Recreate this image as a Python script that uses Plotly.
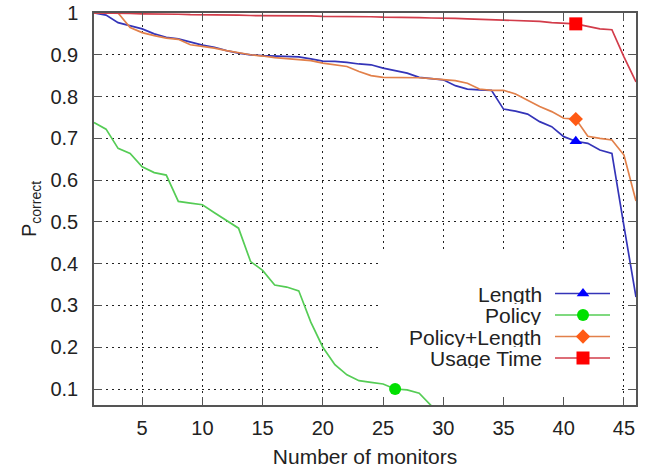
import plotly.graph_objects as go

monitors = list(range(1, 47))

length = [1.0, 0.995, 0.977, 0.970, 0.962, 0.950, 0.942, 0.938, 0.930, 0.923,
          0.918, 0.910, 0.904, 0.900, 0.898, 0.897, 0.896, 0.895, 0.890, 0.885,
          0.884, 0.882, 0.878, 0.876, 0.868, 0.862, 0.856, 0.846, 0.843, 0.840,
          0.826, 0.818, 0.816, 0.815, 0.770, 0.765, 0.758, 0.740, 0.728, 0.704,
          0.693, 0.688, 0.672, 0.664, 0.490, 0.320]

policy_x = list(range(1, 31))
policy = [0.738, 0.722, 0.676, 0.664, 0.632, 0.618, 0.612, 0.549, 0.545, 0.541,
          0.522, 0.503, 0.485, 0.405, 0.384, 0.349, 0.344, 0.335, 0.260, 0.200,
          0.158, 0.134, 0.120, 0.116, 0.112, 0.100, 0.098, 0.090, 0.060, 0.030]

policy_length = [1.0, 1.0, 1.0, 0.965, 0.953, 0.946, 0.940, 0.937, 0.924, 0.920,
                 0.916, 0.910, 0.905, 0.900, 0.897, 0.893, 0.891, 0.889, 0.886, 0.880,
                 0.876, 0.872, 0.860, 0.850, 0.846, 0.846, 0.845, 0.845, 0.843, 0.840,
                 0.838, 0.832, 0.818, 0.815, 0.815, 0.806, 0.792, 0.776, 0.764, 0.748,
                 0.746, 0.705, 0.700, 0.696, 0.660, 0.550]

usage_time = [1.0, 1.0, 0.999, 0.999, 0.998, 0.998, 0.997, 0.997, 0.996, 0.996,
              0.996, 0.995, 0.995, 0.994, 0.994, 0.994, 0.993, 0.993, 0.993, 0.992,
              0.992, 0.992, 0.991, 0.991, 0.990, 0.990, 0.989, 0.989, 0.988, 0.988,
              0.987, 0.986, 0.985, 0.985, 0.984, 0.983, 0.982, 0.980, 0.977, 0.975,
              0.974, 0.968, 0.962, 0.960, 0.895, 0.835]

series_names = ["Length", "Policy", "Policy+Length", "Usage Time"]
x_ticks = [5, 10, 15, 20, 25, 30, 35, 40, 45]
y_ticks = [0.1, 0.2, 0.3, 0.4, 0.5, 0.6, 0.7, 0.8, 0.9, 1.0]

# styling
line_cols = ["#3434b8", "#55cc55", "#e2804a", "#d23c4a"]
mark_cols = ["#0000ff", "#00e000", "#ff5a14", "#ff0000"]
symbols = ["triangle-up", "circle", "diamond", "square"]
msizes = [11, 12, 11, 13]
FONT = "Liberation Sans, Arial, sans-serif"

W, H = 651, 472
PX_L, PX_R, PX_T, PX_B = 94, 636, 13, 405
X_RANGE = [1, 46]
Y_RANGE = [0.0617, 1.0]


def fx(px):
    """pixel column inside the plot -> x value (legend layout only)"""
    return X_RANGE[0] + (px - PX_L) / (PX_R - PX_L) * (X_RANGE[1] - X_RANGE[0])


def fy(py):
    return Y_RANGE[1] - (py - PX_T) / (PX_B - PX_T) * (Y_RANGE[1] - Y_RANGE[0])


fig = go.Figure()

# white box behind the legend (covers the grid, under the data)
fig.add_shape(type="rect", xref="x", yref="y",
              x0=fx(380), x1=fx(618), y0=Y_RANGE[0], y1=fy(253),
              fillcolor="white", line=dict(width=0), layer="between")

series = [(monitors, length, 40), (policy_x, policy, 25),
          (monitors, policy_length, 40), (monitors, usage_time, 40)]

for i, (xs, ys, mi) in enumerate(series):
    fig.add_trace(go.Scatter(x=xs, y=ys, mode="lines",
                             line=dict(color=line_cols[i], width=1.7),
                             showlegend=False, hoverinfo="skip"))
for i, (xs, ys, mi) in enumerate(series):
    fig.add_trace(go.Scatter(x=[xs[mi]], y=[ys[mi]], mode="markers",
                             marker=dict(symbol=symbols[i], color=mark_cols[i],
                                         size=msizes[i], line=dict(width=0)),
                             showlegend=False, cliponaxis=False))

# manual legend (text right-aligned, key sample to the right)
leg_rows = [293.5, 315, 336.5, 358]
for i, name in enumerate(series_names):
    yy = fy(leg_rows[i])
    fig.add_trace(go.Scatter(x=[fx(555), fx(610)], y=[yy, yy], mode="lines",
                             line=dict(color=line_cols[i], width=1.7),
                             showlegend=False, hoverinfo="skip"))
    fig.add_trace(go.Scatter(x=[fx(583)], y=[yy], mode="markers",
                             marker=dict(symbol=symbols[i], color=mark_cols[i],
                                         size=msizes[i], line=dict(width=0)),
                             showlegend=False, hoverinfo="skip"))
    fig.add_annotation(x=fx(543), y=yy, xref="x", yref="y", text=name,
                       showarrow=False, xanchor="right", yanchor="middle",
                       height=20, borderpad=0,
                       font=dict(family=FONT, size=21, color="#222"))

axis_common = dict(showline=True, linecolor="#555", linewidth=1.5, mirror="ticks",
                   ticks="inside", ticklen=8, tickcolor="#555", tickwidth=1.2,
                   showgrid=True, gridcolor="#222", gridwidth=1, griddash="2px,4px",
                   zeroline=False, automargin=False,
                   tickfont=dict(family=FONT, size=20, color="#222"))

fig.update_layout(
    width=W, height=H,
    margin=dict(l=PX_L, r=W - PX_R, t=PX_T, b=H - PX_B, autoexpand=False),
    paper_bgcolor="white", plot_bgcolor="white",
    xaxis=dict(range=X_RANGE, tickvals=x_ticks, ticklabelstandoff=4,
               title=dict(text="Number of monitors", standoff=12,
                          font=dict(family=FONT, size=21, color="#222")),
               **axis_common),
    yaxis=dict(range=Y_RANGE, tickvals=y_ticks,
               ticktext=[str(v) if v != 1.0 else "1" for v in y_ticks],
               ticklabelstandoff=10,
               title=dict(text="P<sub>correct</sub>", standoff=8,
                          font=dict(family=FONT, size=20, color="#222")),
               **axis_common),
    showlegend=False,
)

fig.write_html("out.html")
